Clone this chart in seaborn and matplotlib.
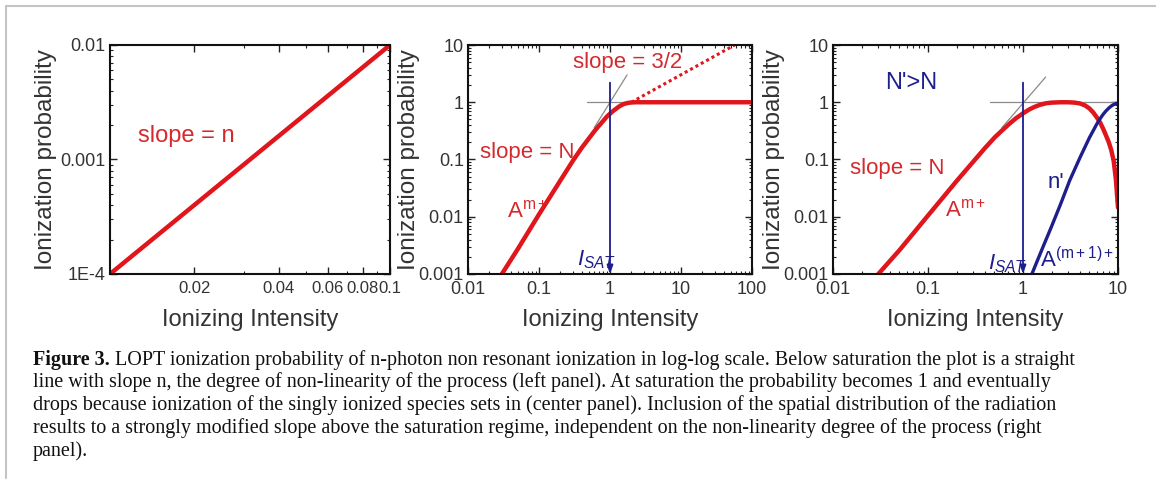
import matplotlib
matplotlib.use("Agg")
import matplotlib.pyplot as plt
import seaborn as sns
import numpy as np
from matplotlib.lines import Line2D
from matplotlib.ticker import FixedLocator, LogLocator, NullFormatter

# ---------------- data ----------------
p1_x = [0.01, 0.1]
p1_y = [1e-4, 1e-2]
p1_xticks = [0.02, 0.04, 0.06, 0.08, 0.1]
p1_xticklabels = ["0.02", "0.04", "0.06", "0.08", "0.1"]
p1_yticks = [1e-4, 1e-3, 1e-2]
p1_yticklabels = ["1E-4", "0.001", "0.01"]

p2_x = [0.03, 0.05, 0.1, 0.2, 0.3, 0.4, 0.5, 0.6, 0.7, 0.8, 0.9, 1.0, 1.1, 1.2, 1.3, 1.4, 1.5, 1.6, 1.8, 2.0, 2.3, 3.0, 5.0, 10, 30, 100]
p2_y = [0.001, 0.0027, 0.011, 0.043, 0.095, 0.16, 0.23, 0.31, 0.39, 0.47, 0.56, 0.63, 0.7, 0.76, 0.82, 0.87, 0.91, 0.94, 0.975, 0.99, 1.0, 1, 1, 1, 1, 1]
p2_dot_x = [2.0, 57]
p2_dot_y = [1.0, 10]
p2_h_x = [0.48, 2.0]
p2_h_y = [1.0, 1.0]
p2_t_x = [0.6, 1.74]
p2_t_y = [0.36, 3.0]
p2_xticks = [0.01, 0.1, 1, 10, 100]
p2_xticklabels = ["0.01", "0.1", "1", "10", "100"]

p3_red_x = [0.03, 0.05, 0.1, 0.2, 0.3, 0.4, 0.5, 0.6, 0.73, 0.85, 1.0, 1.15, 1.3, 1.5, 1.75, 2.0, 2.5, 3.0, 3.5, 4.0, 4.5, 5.0, 5.5, 6.0, 6.5, 7.0, 7.5, 8.0, 8.5, 9.0, 9.5, 10]
p3_red_y = [0.001, 0.0026, 0.0105, 0.042, 0.092, 0.16, 0.24, 0.32, 0.43, 0.53, 0.64, 0.74, 0.82, 0.9, 0.96, 0.985, 1.0, 1.0, 0.985, 0.95, 0.88, 0.78, 0.66, 0.54, 0.44, 0.34, 0.26, 0.2, 0.145, 0.095, 0.045, 0.0145]
p3_blue_x = [1.24, 1.6, 2.0, 2.5, 3.1, 4.0, 5.0, 6.0, 6.5, 7.0, 7.5, 8.0, 8.5, 9.0, 9.5, 10]
p3_blue_y = [0.001, 0.0028, 0.0068, 0.017, 0.043, 0.11, 0.24, 0.42, 0.52, 0.62, 0.71, 0.79, 0.86, 0.91, 0.95, 0.97]
p3_h_x = [0.45, 10]
p3_h_y = [1.0, 1.0]
p3_t_x = [0.6, 1.73]
p3_t_y = [0.36, 2.75]
p3_xticks = [0.01, 0.1, 1, 10]
p3_xticklabels = ["0.01", "0.1", "1", "10"]

log_yticks = [1e-3, 1e-2, 1e-1, 1, 10]
log_yticklabels = ["0.001", "0.01", "0.1", "1", "10"]

caption_bold = "Figure 3."
caption_lines = [
    " LOPT ionization probability of n-photon non resonant ionization in log-log scale. Below saturation the plot is a straight",
    "line with slope n, the degree of non-linearity of the process (left panel). At saturation the probability becomes 1 and eventually",
    "drops because ionization of the singly ionized species sets in (center panel). Inclusion of the spatial distribution of the radiation",
    "results to a strongly modified slope above the saturation regime, independent on the non-linearity degree of the process (right",
    "panel).",
]

# ---------------- style ----------------
sns.set_style("ticks")
plt.rcParams["font.family"] = ["Liberation Sans", "DejaVu Sans"]
plt.rcParams["mathtext.fontset"] = "custom"
plt.rcParams["mathtext.rm"] = "Liberation Sans"
plt.rcParams["mathtext.it"] = "Liberation Sans:italic"
plt.rcParams["mathtext.bf"] = "Liberation Sans:bold"

RED = "#e0161c"
RED_T = "#d42a2e"
BLUE = "#1e1e8c"
GRAY = "#8a8a8a"
TXT = "#333333"

W, H = 1156, 486
fig = plt.figure(figsize=(W / 100, H / 100), dpi=100)

def fr(l, r, t, b):
    return [l / W, 1 - b / H, (r - l) / W, (b - t) / H]

ax1 = fig.add_axes(fr(110, 390, 45, 274))
ax2 = fig.add_axes(fr(468, 752, 45, 274))
ax3 = fig.add_axes(fr(833, 1118, 45, 274))

def style_axis(ax, xlim, ylim, xticks, xlabels, yticks, ylabels, ylab_x):
    ax.set_xscale("log")
    ax.set_yscale("log")
    ax.set_xlim(*xlim)
    ax.set_ylim(*ylim)
    ax.xaxis.set_major_locator(FixedLocator(xticks))
    ax.set_xticklabels(xlabels)
    ax.yaxis.set_major_locator(FixedLocator(yticks))
    ax.set_yticklabels(ylabels)
    ax.xaxis.set_minor_locator(LogLocator(base=10, subs=np.arange(2, 10) * 1.0, numticks=20))
    ax.yaxis.set_minor_locator(LogLocator(base=10, subs=np.arange(2, 10) * 1.0, numticks=20))
    ax.xaxis.set_minor_formatter(NullFormatter())
    ax.yaxis.set_minor_formatter(NullFormatter())
    ax.tick_params(which="both", direction="in", top=True, right=True, colors="#222222",
                   labelcolor=TXT, labelsize=13)
    ax.tick_params(which="major", length=5, width=1.0)
    ax.tick_params(which="minor", length=2.5, width=0.8)
    ax.tick_params(axis="x", which="major", pad=5)
    ax.tick_params(axis="y", which="major", pad=3)
    for s in ax.spines.values():
        s.set_linewidth(1.5)
        s.set_color("#111111")
    ax.set_xlabel("Ionizing Intensity", fontsize=17, color=TXT)
    ax.set_ylabel("Ionization probability", fontsize=17.5, color=TXT, va="center")
    ax.xaxis.set_label_coords(0.5, -0.155)
    ax.yaxis.set_label_coords(ylab_x, 0.5)

# ---- panel 1 ----
sns.lineplot(x=p1_x, y=p1_y, ax=ax1, color=RED, lw=3.2, estimator=None, sort=False)
style_axis(ax1, (0.01, 0.1), (1e-4, 1e-2), p1_xticks, p1_xticklabels, p1_yticks, p1_yticklabels, -0.229)
ax1.tick_params(axis="x", which="major", labelsize=12)
ax1.text(0.0126, 0.0016, "slope = n", color=RED_T, fontsize=17, va="center", ha="left")

# ---- panel 2 ----
sns.lineplot(x=p2_h_x, y=p2_h_y, ax=ax2, color=GRAY, lw=0.9, estimator=None, sort=False)
sns.lineplot(x=p2_t_x, y=p2_t_y, ax=ax2, color=GRAY, lw=0.9, estimator=None, sort=False)
sns.lineplot(x=p2_dot_x, y=p2_dot_y, ax=ax2, color=RED, lw=2.2, linestyle=(0, (1, 1)), estimator=None, sort=False)
sns.lineplot(x=p2_x, y=p2_y, ax=ax2, color=RED, lw=3.2, estimator=None, sort=False)
style_axis(ax2, (0.01, 100), (1e-3, 10), p2_xticks, p2_xticklabels, log_yticks, log_yticklabels, -0.208)
ax2.annotate("", xy=(1, 1e-3), xytext=(1, 2.2),
             arrowprops=dict(arrowstyle="-|>,head_length=0.5,head_width=0.18", color=BLUE, lw=1.3,
                             shrinkA=0, shrinkB=0))
ax2.text(0.3, 5.0, "slope = 3/2", color=RED_T, fontsize=16, va="center", ha="left")
ax2.text(0.0148, 0.13, "slope = N", color=RED_T, fontsize=16, va="center", ha="left")
ax2.text(0.035, 0.0118, r"A$^{\mathrm{m+}}$", color=RED_T, fontsize=16, va="center", ha="left")
ax2.text(0.34, 0.0018, r"$\mathit{I}_{\mathit{SAT}}$", color=BLUE, fontsize=16, va="center", ha="left")

# ---- panel 3 ----
sns.lineplot(x=p3_h_x, y=p3_h_y, ax=ax3, color=GRAY, lw=0.9, estimator=None, sort=False)
sns.lineplot(x=p3_t_x, y=p3_t_y, ax=ax3, color=GRAY, lw=0.9, estimator=None, sort=False)
sns.lineplot(x=p3_red_x, y=p3_red_y, ax=ax3, color=RED, lw=3.2, estimator=None, sort=False)
sns.lineplot(x=p3_blue_x, y=p3_blue_y, ax=ax3, color=BLUE, lw=2.4, estimator=None, sort=False)
style_axis(ax3, (0.01, 10), (1e-3, 10), p3_xticks, p3_xticklabels, log_yticks, log_yticklabels, -0.207)
ax3.annotate("", xy=(1, 1e-3), xytext=(1, 2.2),
             arrowprops=dict(arrowstyle="-|>,head_length=0.5,head_width=0.18", color=BLUE, lw=1.3,
                             shrinkA=0, shrinkB=0))
ax3.text(0.035, 2.2, "N'>N", color=BLUE, fontsize=17, va="center", ha="left")
ax3.text(0.0151, 0.069, "slope = N", color=RED_T, fontsize=16, va="center", ha="left")
ax3.text(0.15, 0.0127, r"A$^{\mathrm{m+}}$", color=RED_T, fontsize=16, va="center", ha="left")
ax3.text(1.8, 0.039, "n'", color=BLUE, fontsize=16, va="center", ha="left")
ax3.text(1.5, 0.0018, r"A$^{\mathrm{(m+1)+}}$", color=BLUE, fontsize=16, va="center", ha="left")
ax3.text(0.43, 0.0015, r"$\mathit{I}_{\mathit{SAT}}$", color=BLUE, fontsize=16, va="center", ha="left")

# ---- frame ----
fig.add_artist(Line2D([6 / W, 1.0], [1 - 6 / H, 1 - 6 / H], transform=fig.transFigure, color="#c4c4c4", lw=1.5))
fig.add_artist(Line2D([6 / W, 6 / W], [1 - 6 / H, 1 - 478 / H], transform=fig.transFigure, color="#c4c4c4", lw=1.5))

# ---- caption ----
cap_fs = 14.5
serif = ["Liberation Serif", "DejaVu Serif"]
line_y = [360, 382.5, 405, 428, 451]
x0 = 33
tb = fig.text(x0 / W, 1 - line_y[0] / H, caption_bold, family=serif, weight="bold", fontsize=cap_fs,
              va="center", ha="left", color="#111111")
fig.canvas.draw()
bb = tb.get_window_extent()
fig.text(bb.x1 / W, 1 - line_y[0] / H, caption_lines[0], family=serif, fontsize=cap_fs,
         va="center", ha="left", color="#111111")
for i in range(1, 5):
    fig.text(x0 / W, 1 - line_y[i] / H, caption_lines[i], family=serif, fontsize=cap_fs,
             va="center", ha="left", color="#111111")

fig.savefig("out.png", dpi=100)
